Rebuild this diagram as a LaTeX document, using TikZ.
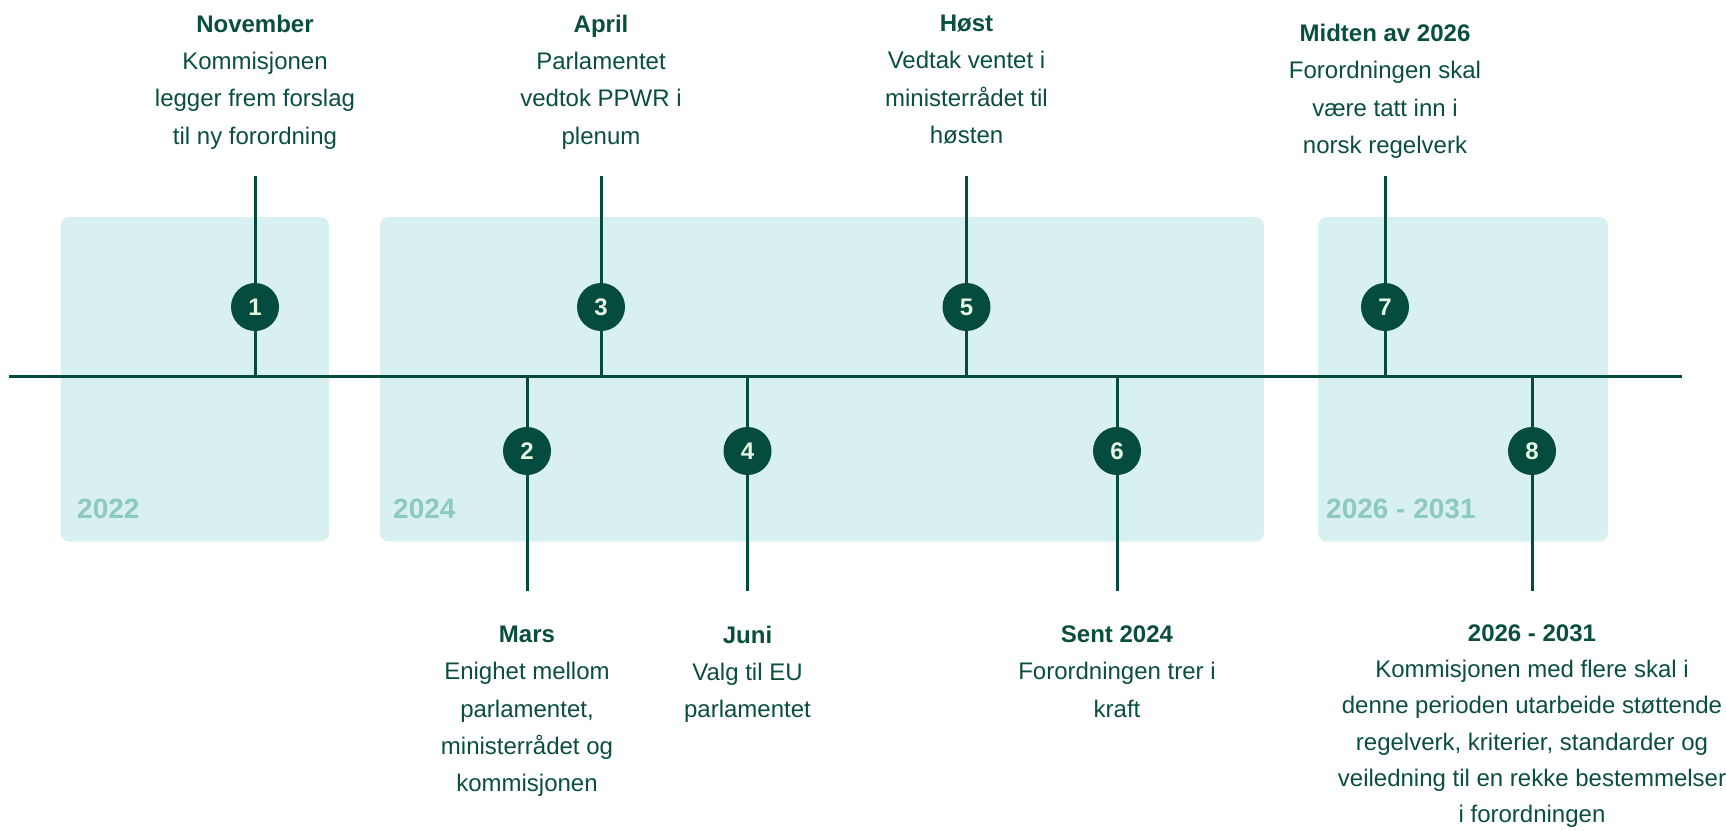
\documentclass[tikz,border=0pt]{standalone}
\usepackage{fontspec}
\setmainfont{Liberation Sans}
\definecolor{dk}{RGB}{5,76,62}
\definecolor{txt}{RGB}{10,78,64}
\definecolor{boxc}{RGB}{217,240,241}
\definecolor{yr}{RGB}{140,201,191}
\definecolor{num}{RGB}{230,247,228}
\tikzset{
  period/.style={fill=boxc, rounded corners=9pt, draw=none},
  yearlbl/.style={text=yr, font=\fontsize{28}{30}\selectfont\bfseries, anchor=base west, inner sep=0pt},
  dot/.style={circle, fill=dk, minimum size=48pt, inner sep=0pt, text=num, font=\fontsize{24}{26}\selectfont\bfseries},
  stem/.style={draw=dk, line width=3pt},
  axis/.style={draw=dk, line width=3.3pt},
  evtext/.style={text=txt, align=center, inner sep=0pt, font=\fontsize{24}{37.4}\selectfont},
}
\begin{document}
\begin{tikzpicture}[x=1pt,y=-1pt]
\useasboundingbox (0,0) rectangle (1726,830);
% period boxes
\path[period] (60.5,217) rectangle (329,541.6);
\path[period] (380,217) rectangle (1264,541.6);
\path[period] (1318,217) rectangle (1608,541.6);
\node[yearlbl] (y1) at (77,518) {2022};
\node[yearlbl] (y2) at (393,518) {2024};
\node[yearlbl] (y3) at (1326,518) {2026 - 2031};
% axis
\coordinate (L) at (9,376.5);
\coordinate (R) at (1682,376.5);
\draw[axis] (L) -- (R);
% top events
\foreach \i/\x in {1/255,3/601,5/966.5,7/1385}{
  \coordinate (t\i) at (\x,176);
  \coordinate (b\i) at (\x,376.5);
  \draw[stem] (t\i) -- (b\i);
  \node[dot] (c\i) at (\x,307) {\i};
}
% bottom events
\foreach \i/\x in {2/527,4/747.5,6/1117,8/1532}{
  \coordinate (t\i) at (\x,376.5);
  \coordinate (b\i) at (\x,591);
  \draw[stem] (t\i) -- (b\i);
  \node[dot] (c\i) at (\x,451) {\i};
}
% texts
\node[evtext, anchor=north] (e1) at (255,14.5) {\textbf{November}\\Kommisjonen\\legger frem forslag\\til ny forordning};
\node[evtext, anchor=north] (e3) at (601,14.5) {\textbf{April}\\Parlamentet\\vedtok PPWR i\\plenum};
\node[evtext, anchor=north] (e5) at (966.5,14.5) {\textbf{Høst}\\Vedtak ventet i\\ministerrådet til\\høsten};
\node[evtext, anchor=north] (e7) at (1385,24) {\textbf{Midten av 2026}\\Forordningen skal\\være tatt inn i\\norsk regelverk};
\node[evtext, anchor=north] (e2) at (527,625.5) {\textbf{Mars}\\Enighet mellom\\parlamentet,\\ministerrådet og\\kommisjonen};
\node[evtext, anchor=north] (e4) at (747.5,625.5) {\textbf{Juni}\\Valg til EU\\parlamentet};
\node[evtext, anchor=north] (e6) at (1117,625.5) {\textbf{Sent 2024}\\Forordningen trer i\\kraft};
\node[evtext, anchor=north, font=\fontsize{24}{36.2}\selectfont] (e8) at (1532,624.5) {\textbf{2026 - 2031}\\Kommisjonen med flere skal i\\denne perioden utarbeide støttende\\regelverk, kriterier, standarder og\\veiledning til en rekke bestemmelser\\i forordningen};
\end{tikzpicture}
\end{document}
